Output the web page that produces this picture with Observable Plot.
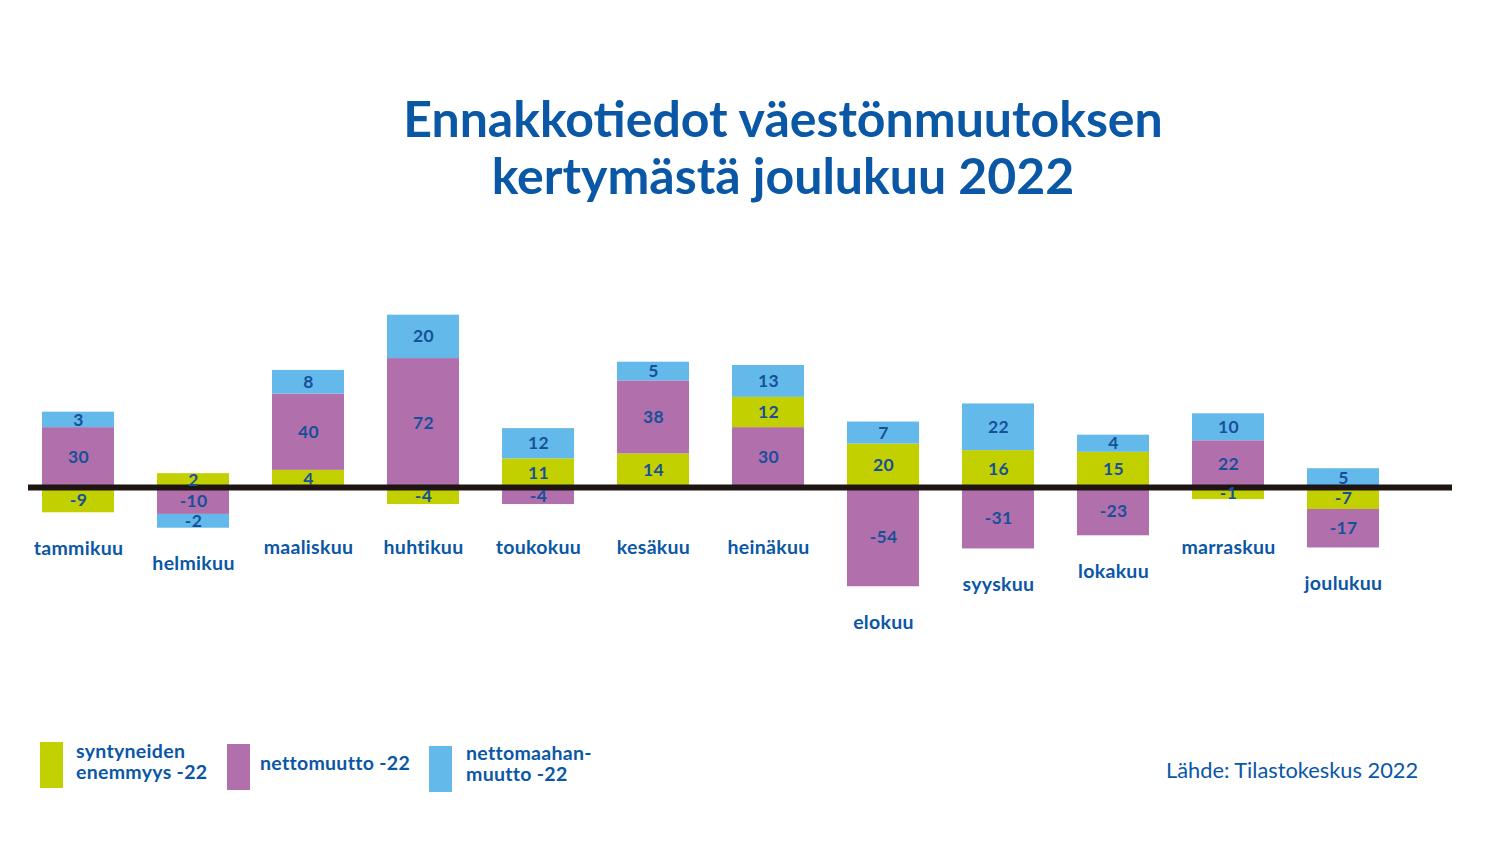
<!DOCTYPE html>
<html>
<head>
<meta charset="utf-8">
<script src="https://cdn.jsdelivr.net/npm/d3@7"></script>
<script src="https://cdn.jsdelivr.net/npm/@observablehq/plot@0.6"></script>
<style>
  html, body { margin: 0; padding: 0; background: #fff; }
  #page { position: relative; width: 1486px; height: 846px; overflow: hidden; font-family: Lato, "Noto Sans", sans-serif; color: #0a57a6; }
  #title { position: absolute; left: 0; top: 90px; width: 1566px; text-align: center; font-weight: 700; font-size: 50px; line-height: 57px; color: #0a57a6; }
  #chart { position: absolute; left: 0; top: 220px; }
  #chart svg text { letter-spacing: 0.3px; }
  .leg-box { position: absolute; width: 23px; height: 46px; }
  .leg-txt { position: absolute; font-weight: 700; font-size: 19.5px; line-height: 21px; letter-spacing: 0.3px; color: #0a57a6; }
  #source { position: absolute; left: 1166px; top: 756px; font-size: 21.8px; color: #0a57a6; }
</style>
</head>
<body>
<div id="page">
  <div id="title">Ennakkotiedot väestönmuutoksen<br>kertymästä joulukuu 2022</div>
  <div id="chart"></div>
  <div class="leg-box" style="left:40px;top:742px;background:#c2d000"></div>
  <div class="leg-txt" style="left:76px;top:740px">syntyneiden<br>enemmyys -22</div>
  <div class="leg-box" style="left:227px;top:744px;background:#b16fab"></div>
  <div class="leg-txt" style="left:260px;top:752px">nettomuutto -22</div>
  <div class="leg-box" style="left:429px;top:746px;background:#63b9e9"></div>
  <div class="leg-txt" style="left:466px;top:742px">nettomaahan-<br>muutto -22</div>
  <div id="source">Lähde: Tilastokeskus 2022</div>
</div>
<script>
const months = ["tammikuu","helmikuu","maaliskuu","huhtikuu","toukokuu","kesäkuu","heinäkuu","elokuu","syyskuu","lokakuu","marraskuu","joulukuu"];
const seriesNames = ["syntyneiden enemmyys -22","nettomuutto -22","nettomaahanmuutto -22"];
const seriesColors = ["#c2d000","#b16fab","#63b9e9"];
const syntyneet = [-9, 2, 4, -4, 11, 14, 12, 20, 16, 15, -1, -7];
const nettomuutto = [30, -10, 40, 72, -4, 38, 30, -54, -31, -23, 22, -17];
const maahanmuutto = [3, -2, 8, 20, 12, 5, 13, 7, 22, 4, 10, 5];
// months where the original stacks nettomuutto below syntyneiden enemmyys
const nettomuuttoFirst = ["heinäkuu"];

const seriesValues = [syntyneet, nettomuutto, maahanmuutto];
// the original draws every segment with some extra visual height (in value units)
const segPad = 6.4;

const segs = [];
const bottoms = [];
months.forEach((m, i) => {
  let pos = 0, neg = 0;
  const order = nettomuuttoFirst.includes(m) ? [1, 0, 2] : [0, 1, 2];
  order.forEach(s => {
    const v = seriesValues[s][i];
    const h = Math.abs(v) + segPad;
    let y1, y2;
    if (v >= 0) { y1 = pos; y2 = pos + h; pos = y2; }
    else { y1 = neg; y2 = neg - h; neg = y2; }
    segs.push({month: m, series: seriesNames[s], value: v, y1, y2, ym: (y1 + y2) / 2});
  });
  bottoms.push({month: m, y: Math.min(neg, -14.6)});
});

const chart = Plot.plot({
  width: 1486,
  height: 420,
  marginTop: 0,
  marginBottom: 0,
  marginLeft: 28,
  marginRight: 34,
  x: {domain: months, range: [40, 1381], paddingInner: 0.376, paddingOuter: 0, axis: null},
  y: {domain: [-93.1, 162.4], axis: null},
  color: {domain: seriesNames, range: seriesColors},
  style: {fontFamily: "Lato, 'Noto Sans', sans-serif", background: "transparent"},
  marks: [
    Plot.barY(segs, {x: "month", y1: "y1", y2: "y2", fill: "series"}),
    Plot.ruleY([0], {stroke: "#1e1412", strokeWidth: 6}),
    Plot.text(segs, {x: "month", y: "ym", text: d => String(d.value), fill: "#17509a", fontWeight: 700, fontSize: 17.5, lineAnchor: "middle"}),
    Plot.text(bottoms, {x: "month", y: "y", text: "month", dy: 36, fill: "#0a57a6", fontWeight: 700, fontSize: 19.5, lineAnchor: "middle"})
  ]
});
document.getElementById("chart").appendChild(chart);
</script>
</body>
</html>
